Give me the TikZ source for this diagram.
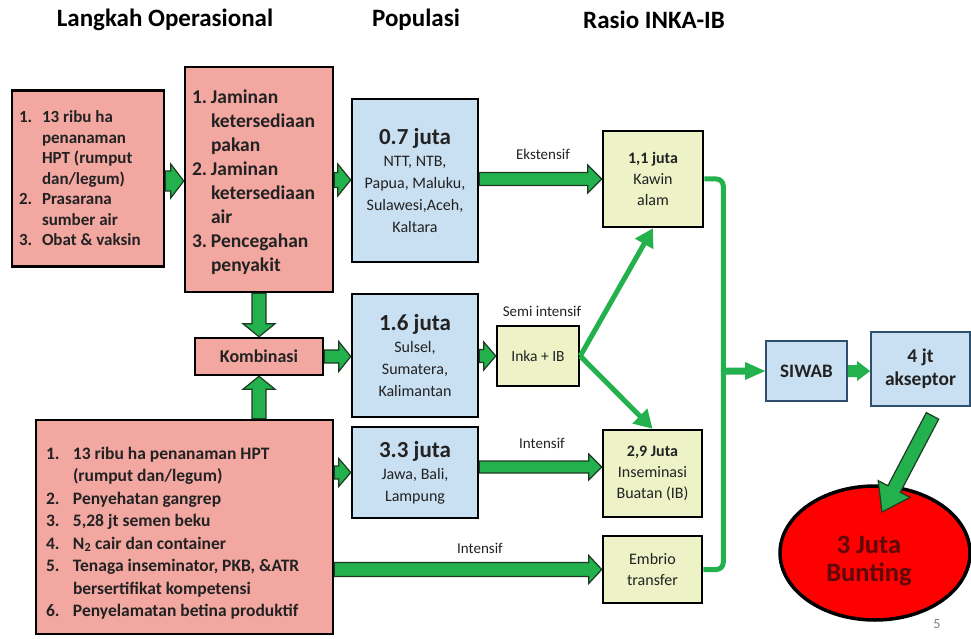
\documentclass[tikz,border=0pt]{standalone}
\usepackage{fontspec}
\setmainfont{Carlito}
\usetikzlibrary{calc,arrows.meta,shapes.geometric}
\definecolor{pinkf}{HTML}{F2A7A1}
\definecolor{bluef}{HTML}{C9DFF2}
\definecolor{yelf}{HTML}{EDF3C6}
\definecolor{grn}{HTML}{22B14C}
\definecolor{arrline}{HTML}{1F3A22}
\definecolor{siwabline}{HTML}{2F4F6F}
\definecolor{darkred}{HTML}{5E0808}
\definecolor{txt}{HTML}{222222}
\newcommand\nl{\hfil\break}
\newcommand\itm[3]{\par\noindent\hangindent=#1\hangafter=1\makebox[#1][l]{#2}#3}
\newcommand\lbox[2]{\begin{minipage}{#1}\rightskip=0pt plus 1fil\relax #2\end{minipage}}
\newcommand\barrow[6][]{%
  \coordinate (bA) at (#2);
  \coordinate (bB) at (#3);
  \coordinate (bH) at ($(bB)!#6!(bA)$);
  \filldraw[barr,#1] ($(bA)!#4!90:(bB)$) -- ($(bH)!#4!90:(bB)$) -- ($(bH)!#5!90:(bB)$) -- (bB)
    -- ($(bH)!#5!-90:(bB)$) -- ($(bH)!#4!-90:(bB)$) -- ($(bA)!#4!-90:(bB)$) -- cycle;
}
\tikzset{
  box/.style={draw=black, line width=2.5pt, rectangle, text=txt, inner sep=0pt},
  pbox/.style={box, fill=pinkf},
  bbox/.style={box, fill=bluef, align=center, font=\fontsize{16}{22}\selectfont},
  ybox/.style={box, fill=yelf, align=center, font=\fontsize{16}{21}\selectfont},
  sbox/.style={draw=siwabline, line width=1.8pt, fill=bluef, text=txt, align=center, inner sep=0pt},
  barr/.style={fill=grn, draw=arrline, line width=1.2pt, line join=miter},
  gline/.style={draw=grn, line width=5pt},
  lbl/.style={font=\fontsize{15}{18}\selectfont, text=txt},
  ttl/.style={font=\bfseries\fontsize{25}{30}\selectfont, text=black}
}
\begin{document}
\begin{tikzpicture}[x=1pt,y=-1pt]
\useasboundingbox (0,0) rectangle (971,639);
\fill[white] (0,0) rectangle (971,639);

% titles
\node[ttl] (t1) at (165,20) {Langkah Operasional};
\node[ttl] (t2) at (416,20) {Populasi};
\node[ttl] (t3) at (654,20) {Rasio INKA-IB};

% left column
\node[pbox, minimum width=152pt, minimum height=176pt,
      font=\bfseries\fontsize{17}{20.5}\selectfont] (A) at (88,178.5) {\lbox{138pt}{%
  \itm{23pt}{1.}{13 ribu ha\nl penanaman\nl HPT (rumput\nl dan/legum)}
  \itm{23pt}{2.}{Prasarana\nl sumber air}
  \itm{23pt}{3.}{Obat \& vaksin}}};

\node[pbox, minimum width=148pt, minimum height=225pt,
      font=\bfseries\fontsize{19.5}{24}\selectfont] (B) at (259,179.5) {\lbox{134pt}{%
  \vspace*{6pt}
  \itm{19pt}{1.}{Jaminan\nl ketersediaan\nl pakan}
  \itm{19pt}{2.}{Jaminan\nl ketersediaan\nl air}
  \itm{19pt}{3.}{Pencegahan\nl penyakit}}};

\node[pbox, minimum width=128pt, minimum height=37pt, font=\bfseries\fontsize{18}{22}\selectfont] (K) at (259,356.5) {Kombinasi};

\node[pbox, minimum width=297pt, minimum height=214pt,
      font=\bfseries\fontsize{17.5}{22.5}\selectfont] (C) at (184.5,527) {\lbox{277pt}{%
  \vspace*{12pt}
  \itm{27pt}{1.}{13 ribu ha penanaman HPT\nl (rumput dan/legum)}
  \itm{27pt}{2.}{Penyehatan gangrep}
  \itm{27pt}{3.}{5,28 jt semen beku}
  \itm{27pt}{4.}{N\textsubscript{2} cair dan container}
  \itm{27pt}{5.}{Tenaga inseminator, PKB, \&ATR\nl bersertifikat kompetensi}
  \itm{27pt}{6.}{Penyelamatan betina produktif}}};

% population column
\node[bbox, minimum width=126pt, minimum height=163pt] (P1) at (415,180.5) {%
  {\bfseries\fontsize{23}{24}\selectfont 0.7 juta}\\NTT, NTB,\\Papua, Maluku,\\Sulawesi,Aceh,\\Kaltara};
\node[bbox, minimum width=126pt, minimum height=123pt] (P2) at (415,355.5) {%
  {\bfseries\fontsize{23}{24}\selectfont 1.6 juta}\\Sulsel,\\Sumatera,\\Kalimantan};
\node[bbox, minimum width=126pt, minimum height=91pt] (P3) at (415,472.5) {%
  {\bfseries\fontsize{23}{24}\selectfont 3.3 juta}\\Jawa, Bali,\\Lampung};

% ratio column
\node[ybox, minimum width=100pt, minimum height=96pt] (R1) at (653,179) {{\bfseries 1,1 juta}\\Kawin\\alam};
\node[ybox, minimum width=82pt, minimum height=60pt, font=\fontsize{15.5}{18}\selectfont] (IN) at (538,356) {Inka + IB};
\node[ybox, minimum width=99pt, minimum height=87pt] (R2) at (652.5,473.5) {{\bfseries 2,9 Juta}\\Inseminasi\\Buatan (IB)};
\node[ybox, minimum width=99pt, minimum height=67pt] (R3) at (652.5,569.5) {Embrio\\transfer};

% labels
\node[lbl] (l1) at (543,154) {Ekstensif};
\node[lbl] (l2) at (542,311) {Semi intensif};
\node[lbl] (l3) at (542,443) {Intensif};
\node[lbl] (l4) at (480,548) {Intensif};

% right side
\node[sbox, minimum width=81pt, minimum height=60pt, font=\bfseries\fontsize{19}{22}\selectfont] (S) at (806.5,371) {SIWAB};
\node[sbox, minimum width=99pt, minimum height=74pt, font=\bfseries\fontsize{19.5}{23}\selectfont] (AK) at (920.5,369) {4 jt\\akseptor};
\node[ellipse, draw=black, line width=3.5pt, fill=red, minimum width=190pt, minimum height=134pt, inner sep=0pt] (E) at (875,553) {};
\node[align=center, text=darkred, font=\bfseries\fontsize{26.5}{28}\selectfont] (Et) at ($(E.center)+(-6,8)$) {3 Juta\\Bunting};
\node[text=gray, font=\fontsize{14}{16}\selectfont] (pg) at (937,624) {5};

% block arrows
\barrow{A.east |- 0,181}{B.west |- 0,181}{10pt}{17pt}{13pt}
\barrow{B.east |- 0,180}{P1.west |- 0,180}{7.5pt}{16pt}{13pt}
\barrow{P1.east |- 0,179}{R1.west |- 0,179}{6.5pt}{14pt}{14pt}
\barrow{B.south}{K.north}{7pt}{16pt}{13pt}
\barrow{K.south |- C.north}{K.south}{7pt}{16pt}{13pt}
\barrow{K.east}{K.east -| P2.west}{6.5pt}{15pt}{12pt}
\barrow{P2.east |- IN.west}{IN.west}{6.5pt}{14pt}{12pt}
\barrow{C.east |- P3.west}{P3.west}{6.5pt}{14pt}{12pt}
\barrow{P3.east |- 0,467}{R2.west |- 0,467}{6pt}{13pt}{13pt}
\barrow{C.east |- R3.west}{R3.west}{7pt}{14pt}{13pt}
\barrow[draw=none]{S.east}{AK.west |- S.east}{6pt}{10pt}{13pt}
\coordinate (akt) at ($(AK.south)+(12,9)$);
\coordinate (ebt) at ($(E.center)+(7,-41)$);
\barrow{akt}{ebt}{7pt}{18pt}{26pt}

% thin arrows
\draw[gline, -{Triangle[length=18pt,width=20pt]}] (IN.east) -- (R1.south);
\draw[gline, -{Triangle[length=18pt,width=20pt]}] (IN.east) -- (R2.north);
\coordinate (bx) at ($(R1.east)+(19,0)$);
\draw[gline, rounded corners=7pt] (R1.east) -- (bx) |- (R3.east);
\barrow[draw=none]{bx |- S.west}{S.west}{3.5pt}{9pt}{20pt}
\end{tikzpicture}
\end{document}
